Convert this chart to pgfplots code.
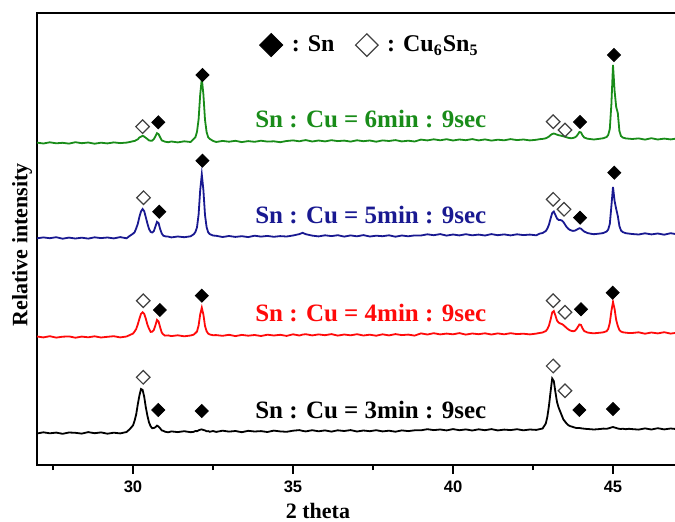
\documentclass[border=0pt]{standalone}
\usepackage{fontspec}
\setmainfont{Liberation Serif}
\setsansfont{Liberation Sans}
\usepackage{pgfplots}
\usepackage{pgfplotstable}
\pgfplotsset{compat=1.18}
\definecolor{cg}{RGB}{25,140,25}
\definecolor{cb}{RGB}{25,25,145}
\definecolor{cr}{RGB}{255,10,10}

% relative intensities (curves are offset by 322, 227, 128, 32)
\pgfplotstableread{
x g b r k
27.0 0.4 -0.3 0.5 -0.5
27.2 -0.5 0.6 -0.4 0.7
27.4 0.7 -0.2 0.8 -0.3
27.6 -0.3 0.8 -0.6 0.4
27.8 0.2 -0.7 0.3 -0.8
28.0 -0.6 0.4 0.6 0.5
28.2 0.8 -0.5 -0.7 0.2
28.4 -0.2 0.3 0.4 -0.6
28.6 0.5 -0.6 -0.3 0.9
28.8 -0.7 0.7 0.7 -0.2
29.0 0.3 -0.1 -0.5 0.6
29.2 -0.4 0.5 0.2 -0.7
29.4 0.6 -0.4 0.8 0.3
29.6 -0.1 0.9 -0.4 -0.4
29.8 0.4 -0.3 0.5 1.0
29.9 1.0 2.2 2.0 3.9
30.0 1.8 4.3 3.4 7.6
30.05 2.0 5.8 5.5 12.2
30.1 2.9 9.6 8.0 18.6
30.15 3.7 14.2 12.7 28.7
30.2 5.5 21.1 18.2 37.4
30.25 6.3 26.6 23.2 44.0
30.3 7.2 29.0 24.8 43.1
30.35 6.4 26.9 23.1 36.3
30.4 5.2 20.8 18.4 25.8
30.45 4.0 14.5 12.4 17.4
30.5 2.6 9.2 8.3 10.6
30.55 2.3 6.1 5.1 6.8
30.6 2.4 5.5 5.3 4.8
30.65 3.9 6.8 6.9 5.0
30.7 6.6 11.5 11.6 5.8
30.75 9.8 16.2 17.1 7.4
30.8 8.8 14.9 15.4 6.4
30.85 5.6 8.8 9.5 4.6
30.9 2.6 4.4 4.3 2.6
30.95 2.0 2.3 2.5 2.1
31.0 1.3 1.7 1.4 1.3
31.1 0.8 1.4 1.6 0.7
31.2 1.5 0.6 0.9 1.6
31.4 0.6 1.5 1.7 0.9
31.6 1.7 0.8 0.7 1.8
31.8 1.0 1.7 1.5 0.8
31.9 4.2 3.8 2.4 1.2
31.95 5.8 6.0 3.9 2.0
32.0 11.2 10.6 5.5 1.8
32.05 23.7 23.4 11.4 2.7
32.1 48.3 47.8 22.6 3.3
32.15 64.5 63.6 29.3 3.6
32.2 48.6 47.9 22.4 3.0
32.25 23.3 23.0 11.1 2.6
32.3 11.0 10.9 5.8 1.7
32.35 5.7 5.6 3.4 1.9
32.4 4.1 3.9 2.5 1.2
32.5 2.1 2.5 1.8 2.0
32.6 1.0 2.2 1.9 1.1
32.8 2.1 1.0 1.2 2.3
33.0 1.3 2.0 2.2 1.4
33.2 2.2 1.1 0.9 2.0
33.4 0.9 1.8 2.1 0.8
33.6 1.9 0.9 1.3 2.2
33.8 1.2 2.3 2.0 1.5
34.0 2.3 1.4 1.0 1.9
34.2 1.4 2.1 2.3 1.0
34.4 1.7 1.2 1.5 2.4
34.6 0.8 1.9 2.2 1.6
34.8 2.0 1.5 1.1 1.2
35.0 2.6 2.5 2.7 2.3
35.2 1.7 3.9 1.5 2.9
35.3 2.4 5.2 2.4 2.1
35.4 2.9 3.8 2.8 1.6
35.6 1.5 2.4 1.6 2.8
35.8 2.5 1.6 2.6 1.7
36.0 1.6 2.7 1.8 2.6
36.2 2.8 1.9 2.9 1.4
36.4 1.9 2.8 1.4 2.7
36.6 2.4 1.4 2.5 2.0
36.8 1.4 2.6 1.7 2.9
37.0 2.7 1.7 2.8 1.5
37.2 1.8 2.9 1.5 2.5
37.4 2.5 1.5 2.3 1.8
37.6 1.3 2.3 1.3 2.8
37.8 2.6 1.8 2.7 1.6
38.0 2.0 2.7 1.6 2.3
38.2 2.9 1.3 2.9 1.3
38.4 1.6 2.5 1.9 2.6
38.6 2.3 1.7 2.4 1.9
38.8 1.5 2.6 1.4 2.7
39.0 3.4 2.5 3.6 2.7
39.2 2.6 3.7 2.5 3.8
39.4 3.7 2.8 3.8 2.9
39.6 2.7 3.9 2.6 3.5
39.8 3.8 2.4 3.4 2.6
40.0 2.5 3.5 2.7 3.9
40.2 3.5 2.6 3.9 2.8
40.4 2.8 3.8 2.4 3.6
40.6 3.9 2.7 3.5 2.5
40.8 2.6 3.4 2.8 3.7
41.0 3.6 2.5 3.7 2.8
41.2 2.4 3.9 2.5 3.9
41.4 3.3 2.8 3.6 2.6
41.6 2.7 3.6 2.7 3.4
41.8 3.9 2.6 3.8 2.9
42.0 2.9 3.7 2.9 3.8
42.2 3.5 2.9 3.3 2.7
42.4 2.6 3.4 2.6 3.5
42.6 3.2 2.7 3.4 3.1
42.7 3.8 4.3 4.0 3.8
42.8 4.1 5.0 4.5 4.5
42.9 4.7 7.0 6.0 9.5
42.95 5.5 9.5 8.0 16.5
43.0 6.5 13.5 11.5 27.5
43.05 8.0 19.5 17.5 41.5
43.1 9.0 25.0 24.5 54.5
43.15 9.5 26.5 26.0 52.0
43.2 9.0 23.0 21.5 41.0
43.25 8.3 19.5 16.5 31.0
43.3 7.8 18.0 14.5 25.5
43.35 7.5 18.0 13.5 21.5
43.4 7.1 17.5 13.0 17.5
43.45 6.7 16.0 12.0 13.5
43.5 6.3 13.5 10.5 11.5
43.55 5.7 11.0 9.0 9.5
43.6 5.2 9.3 7.7 8.0
43.65 4.9 8.2 6.7 7.0
43.7 4.8 7.5 6.1 6.5
43.75 5.0 7.1 5.8 6.0
43.8 5.5 7.3 6.0 5.5
43.85 6.5 8.0 7.5 5.0
43.9 8.5 9.0 10.0 5.0
43.95 11.0 9.8 12.5 5.0
44.0 10.5 9.3 12.0 4.7
44.05 7.5 7.8 8.5 4.5
44.1 5.5 6.5 6.0 4.3
44.2 4.3 5.0 4.5 4.0
44.3 3.9 4.3 4.0 3.8
44.4 3.5 3.8 3.7 3.5
44.6 4.3 4.5 4.3 4.0
44.7 4.8 5.0 4.7 4.4
44.8 6.0 6.5 5.8 4.2
44.85 8.0 8.5 8.0 4.6
44.9 14.0 14.0 14.0 5.0
44.95 39.0 32.0 26.0 5.6
45.0 78.0 51.0 35.0 6.0
45.05 52.0 37.0 28.0 5.5
45.1 36.0 29.0 17.0 5.0
45.15 30.0 22.0 11.0 4.5
45.2 12.0 12.0 7.0 4.2
45.25 7.0 7.5 5.5 4.0
45.3 5.5 6.0 4.8 4.3
45.4 4.6 4.8 4.3 3.8
45.5 4.3 4.4 4.0 4.2
45.6 4.0 4.0 4.0 3.9
45.8 4.6 3.5 4.7 3.4
46.0 3.4 4.7 3.3 4.6
46.2 4.8 3.6 4.5 3.5
46.4 3.5 4.5 3.6 4.8
46.6 4.4 3.3 4.8 3.6
46.8 3.6 4.8 3.4 4.5
47.0 4.5 3.7 4.3 3.9
}\xrd

\begin{document}
\begin{tikzpicture}
\pgfplotsset{
  fd/.style={only marks, mark=square*, mark size=2.3pt,
    mark options={rotate=45, fill=black, draw=black, line width=0.4pt}},
  od/.style={only marks, mark=square, mark size=2.4pt,
    mark options={rotate=45, draw=black!75, fill=white, line width=0.6pt}},
}
\begin{axis}[
  scale only axis, width=320pt, height=226pt,
  xmin=27, xmax=47, ymin=0, ymax=452,
  clip=false,
  axis line style={line width=1pt},
  xtick={30,35,40,45}, minor xtick={27.5,32.5,37.5,42.5},
  xtick pos=bottom, ytick=\empty,
  tick align=outside, major tick length=4.5pt, minor tick length=2.5pt,
  every tick/.style={line width=0.8pt, black},
  /pgf/number format/assume math mode=true,
  xticklabel style={font=\sffamily\bfseries\fontsize{8.3}{10}\selectfont},
  xlabel={2 theta}, ylabel={Relative intensity},
  label style={font=\bfseries\fontsize{11}{13}\selectfont},
  xlabel style={at={(axis description cs:0.439,-0.101)}, anchor=center},
  ylabel style={at={(axis description cs:-0.0234,0.487)}, anchor=center},
  legend image code/.code={\draw[mark repeat=2,mark phase=2,#1] plot coordinates {(0cm,0cm) (0.29cm,0cm) (0.58cm,0cm)};},
  legend columns=2,
  legend style={at={(axis description cs:0.522,0.929)}, anchor=center,
    draw=none, fill=none, font=\bfseries\fontsize{12}{14}\selectfont,
    /tikz/every odd column/.append style={column sep=2.5pt},
    /tikz/every even column/.append style={column sep=8.5pt}},
]
\addlegendimage{fd, mark size=4.1pt}\addlegendentry{: Sn}
\addlegendimage{od, mark size=4.0pt}\addlegendentry{: Cu\textsubscript{6}Sn\textsubscript{5}}

\addplot[forget plot, cg, line width=0.9pt] table[x=x, y expr=\thisrow{g}+322] {\xrd};
\addplot[forget plot, cb, line width=0.9pt] table[x=x, y expr=\thisrow{b}+227] {\xrd};
\addplot[forget plot, cr, line width=0.9pt] table[x=x, y expr=\thisrow{r}+128] {\xrd};
\addplot[forget plot, black, line width=0.9pt] table[x=x, y expr=\thisrow{k}+32] {\xrd};

% Sn (filled) markers
\addplot[forget plot, fd] coordinates {
 (30.79,342.7) (32.17,390) (43.97,343) (45.03,410)
 (30.82,253.3) (32.17,304.3) (43.97,247.3) (45.04,292.3)
 (30.84,155) (32.15,169.3) (44.0,155.7) (44.99,172.3)
 (30.79,55) (32.15,54) (43.95,55) (45.0,56)
};
% Cu6Sn5 (open) markers
\addplot[forget plot, od] coordinates {
 (30.30,338.3) (43.13,343.3) (43.5,335)
 (30.33,267.3) (43.13,265.7) (43.47,255.7)
 (30.32,164.3) (43.13,164.3) (43.5,152.7)
 (30.32,87.7) (43.13,99) (43.5,74.3)
};

\node[anchor=west, inner sep=0, text=cg, font=\bfseries\fontsize{12.5}{14}\selectfont] at (axis cs:33.81,345.5) {Sn : Cu = 6min : 9sec};
\node[anchor=west, inner sep=0, text=cb, font=\bfseries\fontsize{12.5}{14}\selectfont] at (axis cs:33.81,250.5) {Sn : Cu = 5min : 9sec};
\node[anchor=west, inner sep=0, text=cr, font=\bfseries\fontsize{12.5}{14}\selectfont] at (axis cs:33.81,152.5) {Sn : Cu = 4min : 9sec};
\node[anchor=west, inner sep=0, text=black, font=\bfseries\fontsize{12.5}{14}\selectfont] at (axis cs:33.81,55) {Sn : Cu = 3min : 9sec};

\coordinate (bbl) at (axis cs:25.84375,-56);
\coordinate (btr) at (axis cs:46.9375,465);
\end{axis}
\pgfresetboundingbox
\path[use as bounding box] (bbl) rectangle (btr);
\end{tikzpicture}
\end{document}
